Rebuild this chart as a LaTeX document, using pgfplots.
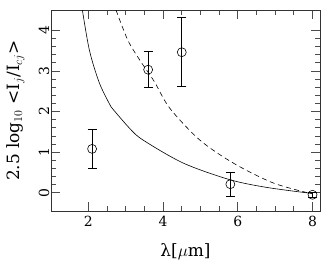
\documentclass[border=0pt]{standalone}
\usepackage{fontspec}
\setmainfont{DejaVu Serif}
\usepackage{pgfplots}
\pgfplotsset{compat=1.18}
\begin{document}
\begin{tikzpicture}
\begin{axis}[name=ax,
  at={(0,0)}, anchor=south west,
  scale only axis, width=269bp, height=201bp,
  xmin=1, xmax=8.2, ymin=-0.45, ymax=4.5,
  xtick={2,4,6,8}, ytick={0,1,2,3,4},
  minor x tick num=3, minor y tick num=4,
  tick align=inside, major tick length=9bp, minor tick length=5bp,
  axis line style={black!80, line width=0.8pt},
  every tick/.style={black!70, line width=0.7pt},
  /pgf/number format/assume math mode=true,
  tick label style={font=\fontsize{14}{16}\selectfont},
  xticklabel style={anchor=center, yshift=-10bp},
  yticklabel style={rotate=90, anchor=center},
  yticklabel shift=7bp,
  label style={font=\fontsize{17}{19}\selectfont},
  xlabel={λ[$\mu$m]},
  xlabel style={at={(axis description cs:0.5,-0.204)}, anchor=center},
  ylabel={2.5 log$_{10}$ <I$_j$/I$_{cj}$>},
  ylabel style={at={(axis description cs:-0.132,0.5)}, anchor=center},
  clip=true,
]
\addplot[black, line width=0.6pt, smooth] coordinates {(1.84,4.5) (2.03,3.5) (2.30,2.69) (2.61,2.11)};
\addplot[black, line width=0.6pt, smooth] coordinates {(2.61,2.11) (3.10,1.59) (3.46,1.30) (4.54,0.73) (5.79,0.32) (6.78,0.13) (8.0,-0.02)};
\addplot[black, line width=0.6pt, dash pattern=on 5bp off 3.5bp, smooth] coordinates {(2.74,4.5) (3.06,3.75) (3.41,3.22) (3.77,2.73) (4.18,2.08) (4.98,1.30) (5.88,0.73) (6.95,0.24) (8.0,-0.03)};
\addplot[only marks, mark=o, mark size=4.5bp, black, line width=0.6pt,
  error bars/.cd, y dir=both, y explicit, error mark options={rotate=90, mark size=4.5bp, line width=0.7pt}, error bar style={line width=0.7pt}]
  coordinates {
  (2.1,1.08) +- (0,0.48)
  (3.6,3.03) +- (0,0.44)
  (4.5,3.46) +- (0,0.85)
  (5.8,0.21) +- (0,0.29)
  (8.0,-0.05) +- (0,0.07)
  };
\end{axis}
\pgfresetboundingbox
\path (-51bp,-57bp) rectangle (280bp,211bp);
\end{tikzpicture}
\end{document}
